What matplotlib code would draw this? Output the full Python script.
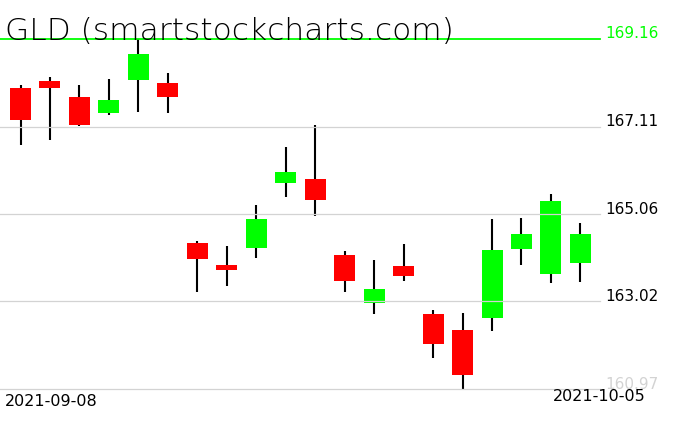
import matplotlib
matplotlib.use("Agg")
import matplotlib.pyplot as plt
import numpy as np

# GLD daily candles, 2021-09-08 .. 2021-10-05
dates = ["2021-09-08", "2021-09-09", "2021-09-10", "2021-09-13", "2021-09-14",
         "2021-09-15", "2021-09-16", "2021-09-17", "2021-09-20", "2021-09-21",
         "2021-09-22", "2021-09-23", "2021-09-24", "2021-09-27", "2021-09-28",
         "2021-09-29", "2021-09-30", "2021-10-01", "2021-10-04", "2021-10-05"]
opens  = [168.01, 168.18, 167.80, 167.43, 168.20, 168.13, 164.39, 163.87, 164.27, 165.79,
          165.88, 164.11, 162.98, 163.85, 162.73, 162.35, 162.63, 164.25, 163.66, 163.92]
highs  = [168.08, 168.27, 168.08, 168.22, 169.16, 168.36, 164.43, 164.32, 165.28, 166.63,
          167.15, 164.20, 163.99, 164.36, 162.82, 162.75, 164.95, 164.97, 165.53, 164.85]
lows   = [166.68, 166.80, 167.12, 167.38, 167.45, 167.43, 163.24, 163.38, 164.04, 165.46,
          165.02, 163.24, 162.73, 163.50, 161.70, 160.97, 162.33, 163.87, 163.45, 163.47]
closes = [167.27, 168.01, 167.15, 167.73, 168.81, 167.80, 164.01, 163.75, 164.95, 166.05,
          165.40, 163.50, 163.31, 163.61, 162.02, 161.30, 164.22, 164.60, 165.37, 164.60]
levels = [169.16, 167.11, 165.06, 163.02, 160.97]
level_colors = ["#00ff00", "black", "black", "black", "#d3d3d3"]

W, H = 676, 431
fig = plt.figure(figsize=(W / 100, H / 100), dpi=100)
ax = fig.add_axes([0, 0, 1, 1])
ax.axis("off")

# pixel geometry of the reference
step = 29.47
x0 = 20.5
ppu = 350 / (levels[0] - levels[-1])  # pixels per price unit
ax.set_xlim(-x0 / step, (W - x0) / step)
ax.set_ylim(levels[0] - (H - 40) / ppu, levels[0] + 40 / ppu)

o = np.array(opens)
c = np.array(closes)
x = np.arange(len(dates))
up = c >= o
colors = np.where(up, "#00ff00", "#ff0000")

ax.vlines(x, lows, highs, color="black", lw=1.5, zorder=1)
ax.bar(x, np.abs(c - o), bottom=np.minimum(o, c), width=21 / step,
       color=colors, zorder=2)

xfrac = 600 / W
for lv, col in zip(levels, level_colors):
    if col == "#00ff00":
        ax.axhline(lv, xmin=0, xmax=xfrac, color="#00ff00", lw=1.3, zorder=4)
    else:
        ax.axhline(lv, xmin=0, xmax=xfrac, color="#d3d3d3", lw=0.9, zorder=3)
    ax.text(605 / W, lv - 1.5 / ppu, "%.2f" % lv, transform=ax.get_yaxis_transform(),
            color=col, fontsize=11, ha="left", va="bottom")

ax.text(5 / W, 1 - 40 / H, "GLD (smartstockcharts.com)", transform=ax.transAxes,
        fontsize=22.5, fontweight="light", ha="left", va="baseline", zorder=5)

ax.text(5 / W, 1 - 406 / H, dates[0], transform=ax.transAxes,
        fontsize=11.5, ha="left", va="baseline")
ax.text(646 / W, 1 - 401 / H, dates[-1], transform=ax.transAxes,
        fontsize=11.5, ha="right", va="baseline")

fig.savefig("out.png", dpi=100)
